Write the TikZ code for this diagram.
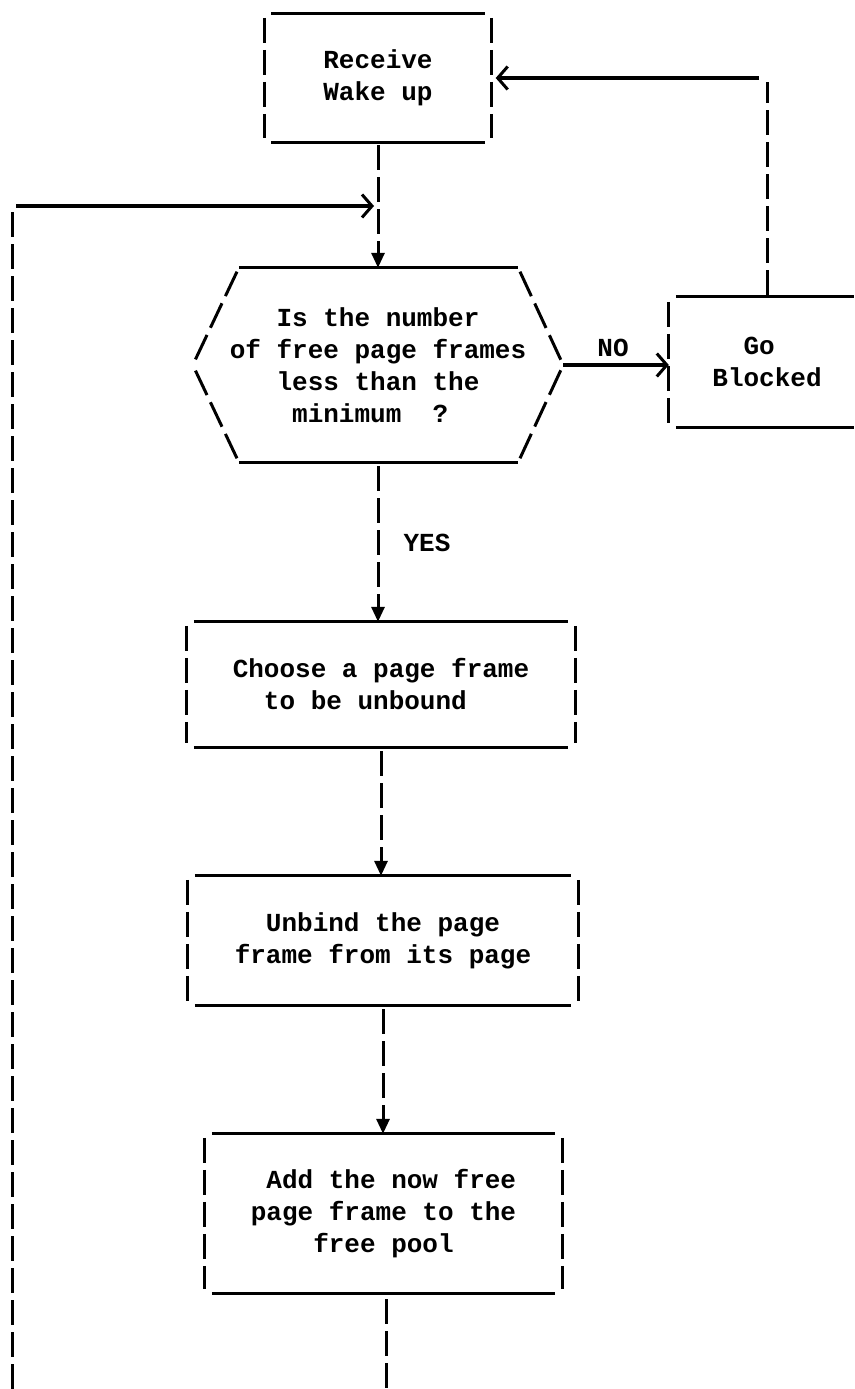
\documentclass[tikz,border=0pt]{standalone}
\usepackage{fontspec}
\setmonofont{Liberation Mono}
\usetikzlibrary{arrows.meta,calc}
\newcommand{\typebox}[1]{%
  \draw[hline] ($(#1.north west)+(7,0)$) -- ($(#1.north east)+(-7,0)$);
  \draw[hline] ($(#1.south west)+(7,0)$) -- ($(#1.south east)+(-7,0)$);
  \draw[vline] ($(#1.north west)+(0,4)$) -- ($(#1.south west)+(0,-4)$);
  \draw[vline] ($(#1.north east)+(0,4)$) -- ($(#1.south east)+(0,-4)$);}
\begin{document}
\begin{tikzpicture}[x=1pt,y=-1pt,
  txt/.style={font=\ttfamily\bfseries\fontsize{26}{32}\selectfont, align=left, inner sep=0pt},
  box/.style={txt},
  hline/.style={line width=3.1pt},
  vline/.style={line width=3pt, dash pattern=on 25pt off 7pt},
  sline/.style={line width=3pt, dash pattern=on 27pt off 8pt},
  tri/.style={-{Triangle[length=15pt,width=13pt]}},
  barb/.style={-{Straight Barb[length=10pt,width=23pt,line width=3pt]}}]
\useasboundingbox (0,0) rectangle (854,1389);
\fill[white] (0,0) rectangle (854,1389);

% nodes
\node[box, minimum width=227pt, minimum height=128pt] (b1) at (378,78) {Receive\\Wake up};
\node[box, minimum width=370pt, minimum height=194pt] (hex) at (378,365)
  {\phantom{XXX}Is the number\\of free page frames\\\phantom{XXX}less than the\\\phantom{XXXX}minimum~~?};
\node[box, minimum width=196pt, minimum height=130pt] (gob) at (767,362) {\phantom{XX}Go\\Blocked};
\node[box, minimum width=388pt, minimum height=125pt] (b3) at (381,684.5)
  {Choose a page frame\\\phantom{XX}to be unbound};
\node[box, minimum width=390pt, minimum height=129pt] (b4) at (383,940.5)
  {\phantom{XX}Unbind the page\\frame from its page};
\node[box, minimum width=357pt, minimum height=159pt] (b5) at (383.5,1213.5)
  {\phantom{X}Add the now free\\page frame to the\\\phantom{XXXX}free pool};
\node[txt] (no) at (613,348) {NO};
\node[txt] (yes) at (427,543) {YES};

% box outlines
\typebox{b1}
\typebox{b3}
\typebox{b4}
\typebox{b5}

% hexagon
\coordinate (htl) at ($(hex.north west)+(46,0)$);
\coordinate (htr) at ($(hex.north east)+(-45,0)$);
\coordinate (hbl) at ($(hex.south west)+(46,0)$);
\coordinate (hbr) at ($(hex.south east)+(-45,0)$);
\draw[hline] (htl) -- (htr);
\draw[hline] (hbl) -- (hbr);
\draw[sline] ($(htl)!0.04!(hex.west)$) -- (hex.west);
\draw[sline] ($(hbl)!0.04!(hex.west)$) -- (hex.west);
\draw[sline] ($(htr)!0.04!(hex.east)$) -- (hex.east);
\draw[sline] ($(hbr)!0.04!(hex.east)$) -- (hex.east);

% Go Blocked box (cut at right edge)
\coordinate (edge) at (854,0);
\draw[hline] ($(gob.north west)+(7,0)$) -- (gob.north west -| edge);
\draw[hline] ($(gob.south west)+(7,0)$) -- (gob.south west -| edge);
\draw[vline] ($(gob.north west)+(0,5)$) -- ($(gob.south west)+(0,-4)$);

% connectors
\draw[vline, tri] ($(b1.south)+(0,3)$) -- (hex.north);
\draw[vline, tri] ($(hex.south)+(0,4)$) -- (hex.south |- b3.north);
\draw[vline, tri] ($(b3.south)+(0,4)$) -- (b3.south |- b4.north);
\draw[vline, tri] ($(b4.south)+(0,4)$) -- (b4.south |- b5.north);
\coordinate (bb) at (386,1395);
\draw[vline] ($(b5.south)+(2.5,6)$) -- (bb);

% loop back on the left
\coordinate (lt) at (12,206);
\coordinate (lb) at (12,1395);
\coordinate (mg) at (374,206);
\draw[vline] ($(lt)+(0,6)$) -- (lb);
\draw[hline, barb] ($(lt)+(4,0)$) -- (mg);

% NO branch
\draw[hline, barb] (hex.east) -- (hex.east -| gob.west);

% Go Blocked back to Receive Wake up
\coordinate (gc) at (gob.north |- b1.east);
\draw[vline] ($(gob.north)+(0,-2)$) -- ($(gc)+(0,4)$);
\draw[hline, barb] ($(gc)+(-8,0)$) -- ($(b1.east)+(4,0)$);
\end{tikzpicture}
\end{document}
